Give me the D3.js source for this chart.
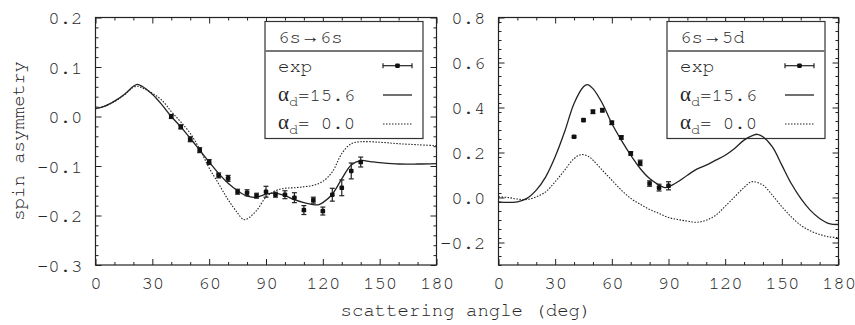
<!DOCTYPE html>
<html><head><meta charset="utf-8">
<script src="https://cdn.jsdelivr.net/npm/d3@7"></script>
<style>
body{margin:0;background:#fff}
svg{display:block}
text{font-family:"Nimbus Mono PS","FreeMono","Liberation Mono","Courier New",monospace;fill:#262626}
.sym{font-family:"Liberation Serif","DejaVu Serif",serif}
.arrow{font-family:"Liberation Serif","DejaVu Sans",serif}
</style>
</head><body>
<svg id="chart" width="855" height="325"></svg>
<script>
// ---- axis ticks ----
const xTicks = [0, 30, 60, 90, 120, 150, 180];
const xMinor = [10, 20, 40, 50, 70, 80, 100, 110, 130, 140, 160, 170];
const leftYTicks = [-0.3, -0.2, -0.1, 0.0, 0.1, 0.2];
const rightYTicks = [-0.2, 0.0, 0.2, 0.4, 0.6, 0.8];

// ---- 6s -> 6s ----
const s66Angle  = [0,5,10,15,20,22,25,30,35,40,45,50,55,60,65,70,75,80,85,90,95,100,105,110,115,118,120,125,130,135,140,145,150,160,170,180];
const s66Pol    = [0.016,0.021,0.031,0.044,0.061,0.065,0.060,0.045,0.024,0.000,-0.021,-0.044,-0.068,-0.092,-0.115,-0.135,-0.150,-0.161,-0.163,-0.157,-0.155,-0.160,-0.168,-0.174,-0.178,-0.178,-0.174,-0.157,-0.126,-0.098,-0.089,-0.091,-0.093,-0.096,-0.096,-0.095];
const s66NoPolAngle = [0,5,10,15,20,22,25,30,35,40,45,50,55,60,65,70,75,78,80,85,90,95,100,105,110,115,120,125,130,135,140,150,160,170,180];
const s66NoPol  = [0.016,0.021,0.030,0.043,0.059,0.061,0.057,0.047,0.033,0.010,-0.011,-0.034,-0.066,-0.104,-0.136,-0.168,-0.195,-0.208,-0.207,-0.190,-0.163,-0.150,-0.145,-0.144,-0.142,-0.139,-0.131,-0.112,-0.075,-0.055,-0.051,-0.052,-0.055,-0.057,-0.059];
const s66ExpAngle = [40,45,50,55,60,65,70,75,80,85,90,95,100,105,110,115,120,125,130,135,140];
const s66Exp      = [0.000,-0.021,-0.046,-0.068,-0.092,-0.119,-0.125,-0.152,-0.154,-0.160,-0.152,-0.158,-0.158,-0.164,-0.189,-0.169,-0.191,-0.158,-0.144,-0.110,-0.092];
const s66ExpErr   = [0.004,0.004,0.005,0.005,0.005,0.005,0.006,0.005,0.006,0.005,0.011,0.005,0.008,0.010,0.009,0.006,0.008,0.013,0.016,0.016,0.010];

// ---- 6s -> 5d ----
const s5dAngle  = [0,5,10,15,20,25,30,35,40,45,47,50,55,60,65,70,75,80,85,88,90,95,100,105,110,115,120,125,130,135,137,140,145,150,155,160,165,170,175,180];
const s5dPol    = [-0.019,-0.022,-0.019,-0.004,0.033,0.092,0.181,0.292,0.418,0.492,0.502,0.484,0.418,0.329,0.255,0.188,0.129,0.084,0.055,0.044,0.047,0.070,0.099,0.126,0.144,0.166,0.188,0.218,0.255,0.277,0.281,0.270,0.225,0.144,0.062,-0.004,-0.056,-0.093,-0.116,-0.120];
const s5dNoPolAngle = [0,5,10,15,20,25,30,35,40,44,48,50,55,60,65,70,75,80,85,90,95,100,105,110,115,120,125,130,134,140,145,150,155,160,165,170,175,180];
const s5dNoPol  = [0.003,0.000,-0.007,-0.009,0.003,0.025,0.070,0.121,0.173,0.191,0.181,0.166,0.121,0.077,0.033,-0.004,-0.030,-0.053,-0.071,-0.089,-0.098,-0.105,-0.110,-0.101,-0.079,-0.039,0.003,0.044,0.070,0.055,0.010,-0.041,-0.086,-0.123,-0.148,-0.164,-0.175,-0.178];
const s5dExpAngle = [40,45,50,55,60,65,70,75,80,85,90];
const s5dExp      = [0.270,0.344,0.381,0.388,0.332,0.267,0.196,0.154,0.062,0.044,0.052];
const s5dExpErr   = [0.004,0.005,0.008,0.008,0.008,0.008,0.008,0.012,0.012,0.015,0.018];

const legendLabels = ["exp", "15.6", " 0.0"];

const svg = d3.select("#chart");
const fmt = d3.format(".1f");
const ink = "#222";

const panels = [
  {x0: 95.5, x1: 436.5, dom: [-0.3, 0.2], ticks: leftYTicks, minorStep: 0.02,
   pol: [s66Angle, s66Pol], nopol: [s66NoPolAngle, s66NoPol],
   exp: [s66ExpAngle, s66Exp, s66ExpErr], title: ["6s", "6s"]},
  {x0: 498.5, x1: 838.5, dom: [-0.3, 0.8], ticks: rightYTicks, minorStep: 0.04,
   pol: [s5dAngle, s5dPol], nopol: [s5dNoPolAngle, s5dNoPol],
   exp: [s5dExpAngle, s5dExp, s5dExpErr], title: ["6s", "5d"]}
];
const yTop = 17.5, yBot = 265;

panels.forEach(p => {
  const x = d3.scaleLinear().domain([0, 180]).range([p.x0, p.x1]);
  const y = d3.scaleLinear().domain(p.dom).range([yBot, yTop]);
  const g = svg.append("g");

  // minor y ticks on a fixed step, skipping the labelled ones
  const yMinor = [];
  for (let v = p.dom[0]; v <= p.dom[1] + 1e-9; v += p.minorStep) {
    const r = Math.round(v * 100) / 100;
    if (!p.ticks.some(t => Math.abs(t - r) < 1e-6)) yMinor.push(r);
  }

  const styleAxis = sel => {
    sel.select(".domain").remove();
    sel.selectAll("line").attr("stroke", ink).attr("stroke-width", 1);
    sel.selectAll("text").style("font-size", "19px").attr("fill", "#262626");
  };

  // major ticks with labels
  g.append("g").attr("transform", `translate(0,${yBot})`)
    .call(d3.axisBottom(x).tickValues(xTicks).tickFormat(d3.format("d")).tickSize(-6).tickPadding(11))
    .call(styleAxis);
  g.append("g").attr("transform", `translate(${p.x0},0)`)
    .call(d3.axisLeft(y).tickValues(p.ticks.filter(t => !(p.dom[1] > 0.5 && t < -0.25))).tickFormat(fmt).tickSize(-6).tickPadding(13))
    .call(styleAxis);
  g.append("g").attr("transform", `translate(0,${yTop})`)
    .call(d3.axisTop(x).tickValues(xTicks).tickFormat("").tickSize(-6)).call(styleAxis);
  g.append("g").attr("transform", `translate(${p.x1},0)`)
    .call(d3.axisRight(y).tickValues(p.ticks).tickFormat("").tickSize(-6)).call(styleAxis);
  // minor ticks
  g.append("g").attr("transform", `translate(0,${yBot})`)
    .call(d3.axisBottom(x).tickValues(xMinor).tickFormat("").tickSize(-3)).call(styleAxis);
  g.append("g").attr("transform", `translate(0,${yTop})`)
    .call(d3.axisTop(x).tickValues(xMinor).tickFormat("").tickSize(-3)).call(styleAxis);
  g.append("g").attr("transform", `translate(${p.x0},0)`)
    .call(d3.axisLeft(y).tickValues(yMinor).tickFormat("").tickSize(-3)).call(styleAxis);
  g.append("g").attr("transform", `translate(${p.x1},0)`)
    .call(d3.axisRight(y).tickValues(yMinor).tickFormat("").tickSize(-3)).call(styleAxis);

  // frame
  g.append("rect").attr("x", p.x0).attr("y", yTop).attr("width", p.x1 - p.x0).attr("height", yBot - yTop)
    .attr("fill", "none").attr("stroke", ink).attr("stroke-width", 1.2);

  // legend (drawn before the curves, which pass over it)
  const lx = p.x1 - 171.5, lw = 158, ly = 21.5, lh = 117;
  const L = g.append("g");
  L.append("rect").attr("x", lx).attr("y", ly).attr("width", lw).attr("height", lh)
    .attr("fill", "#fff").attr("stroke", "#333").attr("stroke-width", 1.2);
  L.append("line").attr("x1", lx).attr("x2", lx + lw).attr("y1", 51).attr("y2", 51)
    .attr("stroke", "#777").attr("stroke-width", 2);
  const tt = L.append("text").attr("x", lx + 13).attr("y", 43).style("font-size", "19px");
  tt.append("tspan").text(p.title[0]);
  tt.append("tspan").attr("class", "arrow").style("font-size", "19px").text("\u2192");
  tt.append("tspan").text(p.title[1]);
  const rowsY = [72, 100.5, 129];
  L.append("text").attr("x", lx + 13).attr("y", rowsY[0]).style("font-size", "19px").text(legendLabels[0]);
  [1, 2].forEach(k => {
    const t = L.append("text").attr("x", lx + 13).attr("y", rowsY[k]).style("font-size", "19px").style("white-space", "pre");
    t.append("tspan").attr("class", "sym").style("font-size", "21px").text("\u03b1");
    t.append("tspan").attr("dy", 5).style("font-size", "15px").text("d");
    t.append("tspan").attr("dy", -5).text("=" + legendLabels[k]);
  });
  const sx0 = lx + 118, sx1 = lx + 147, sm = (sx0 + sx1) / 2;
  const ey = 65.7;
  L.append("line").attr("x1", sx0).attr("x2", sx1).attr("y1", ey).attr("y2", ey).attr("stroke", ink).attr("stroke-width", 1.2);
  [sx0, sx1].forEach(cx => L.append("line").attr("x1", cx).attr("x2", cx).attr("y1", ey - 2.5).attr("y2", ey + 2.5).attr("stroke", ink).attr("stroke-width", 1.2));
  L.append("rect").attr("x", sm - 2.3).attr("y", ey - 2.3).attr("width", 4.6).attr("height", 4.6).attr("rx", 1.2).attr("fill", "#111");
  L.append("line").attr("x1", sx0).attr("x2", sx1).attr("y1", 95).attr("y2", 95).attr("stroke", ink).attr("stroke-width", 1.3);
  L.append("line").attr("x1", sx0).attr("x2", sx1).attr("y1", 124).attr("y2", 124).attr("stroke", ink).attr("stroke-width", 1.1).attr("stroke-dasharray", "1.5,1.5");

  const line = d3.line().x(d => x(d[0])).y(d => y(d[1])).curve(d3.curveCatmullRom.alpha(0.5));
  const pairs = (a, b) => a.map((v, i) => [v, b[i]]);

  g.append("path").datum(pairs(p.nopol[0], p.nopol[1])).attr("d", line)
    .attr("fill", "none").attr("stroke", ink).attr("stroke-width", 1.1).attr("stroke-dasharray", "1.5,1.5");
  g.append("path").datum(pairs(p.pol[0], p.pol[1])).attr("d", line)
    .attr("fill", "none").attr("stroke", ink).attr("stroke-width", 1.3);

  // measured points with error bars
  const pts = p.exp[0].map((a, i) => ({a, v: p.exp[1][i], e: p.exp[2][i]}));
  const eg = g.append("g").selectAll("g").data(pts).join("g");
  eg.append("line").attr("x1", d => x(d.a)).attr("x2", d => x(d.a))
    .attr("y1", d => y(d.v - d.e)).attr("y2", d => y(d.v + d.e)).attr("stroke", ink).attr("stroke-width", 1.2);
  [-1, 1].forEach(s => eg.append("line")
    .attr("x1", d => x(d.a) - 2.5).attr("x2", d => x(d.a) + 2.5)
    .attr("y1", d => y(d.v + s * d.e)).attr("y2", d => y(d.v + s * d.e))
    .attr("stroke", ink).attr("stroke-width", 1.2));
  eg.append("rect").attr("x", d => x(d.a) - 2.3).attr("y", d => y(d.v) - 2.3)
    .attr("width", 4.6).attr("height", 4.6).attr("rx", 1.2).attr("fill", "#111");
});

// axis titles
svg.append("text").attr("x", 466).attr("y", 316).attr("text-anchor", "middle").style("font-size", "19px").text("scattering angle (deg)");
svg.append("text").attr("transform", "translate(24,141) rotate(-90)").attr("text-anchor", "middle").style("font-size", "19px").text("spin asymmetry");
</script>
</body></html>
